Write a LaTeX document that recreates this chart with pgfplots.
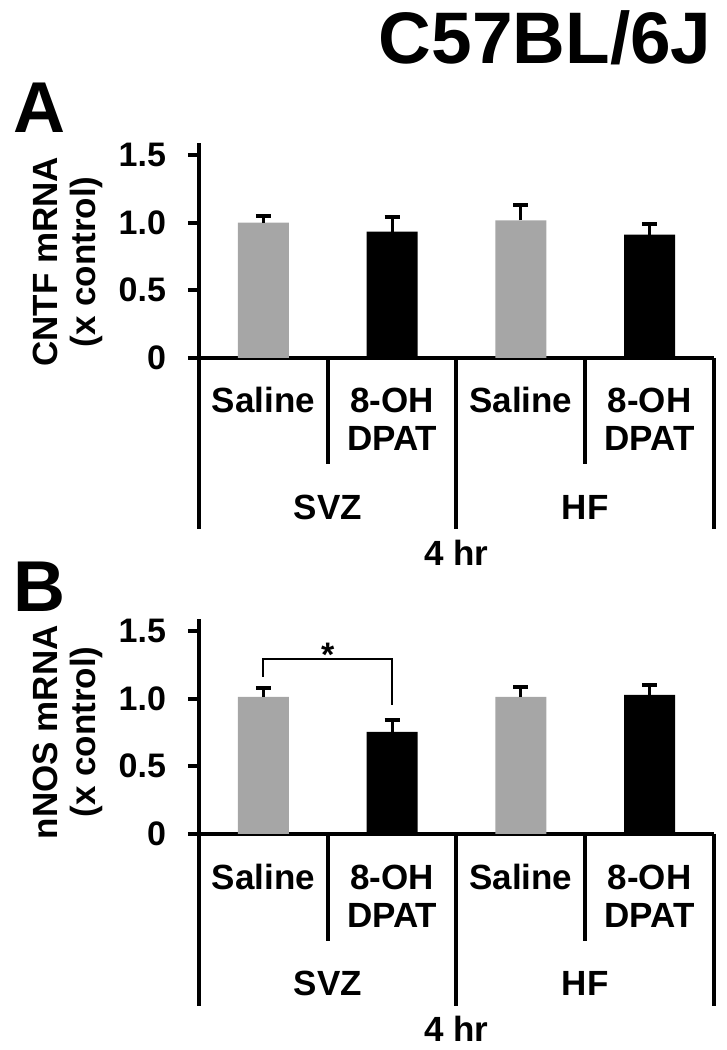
\documentclass[border=0pt]{standalone}
\usepackage{fontspec}
\setmainfont{Liberation Sans}
\usepackage{pgfplots}
\pgfplotsset{compat=1.18}
\definecolor{bargray}{HTML}{A6A6A6}
\newcommand{\lblfont}{\fontsize{17.5}{19}\selectfont\bfseries}
\newcommand{\two}[2]{\vtop{\halign{\hfil##\hfil\cr #1\cr #2\cr}}}
\pgfplotsset{
  panel/.style={
    scale only axis, width=257.5pt, height=107.5pt,
    anchor=south west,
    xmin=0, xmax=4, ymin=0, ymax=1.587,
    axis x line*=bottom, axis y line*=left,
    axis line style={line width=2pt, -},
    ytick={0,0.5,1,1.5}, yticklabels={0,0.5,1.0,1.5},
    ytick style={line width=2pt, black},
    tick align=outside, major tick length=5.5pt,
    xtick={0.5,1.5,2.5,3.5},
    xticklabels={Saline,{\two{8-OH}{DPAT}},Saline,{\two{8-OH}{DPAT}}},
    xtick style={draw=none},
    xticklabel style={anchor=base, yshift=-22pt, font=\lblfont},
    yticklabel style={font=\fontsize{17}{20}\selectfont\bfseries, xshift=-7.5pt},
    /pgf/number format/assume math mode=true,
    ybar, bar width=25.5pt,
    every axis plot/.append style={bar shift=0pt},
    error bars/y dir=plus, error bars/y explicit,
    error bars/error bar style={line width=1.5pt, draw=black, solid},
    error bars/error mark options={line width=2pt, mark size=3.75pt, draw=black, solid, rotate=90},
    clip=false,
    ylabel style={align=center, font=\lblfont, anchor=center},
  },
}
\begin{document}
\begin{tikzpicture}
\useasboundingbox (0,0) rectangle (363.5pt,525pt);
\node[anchor=base east, inner sep=0pt, font=\fontsize{36.5}{40}\selectfont\bfseries] at (356pt,493pt) {C57BL/6J};
\node[anchor=base west, inner sep=0pt, font=\fontsize{36}{38}\selectfont\bfseries] at (6.5pt,458.5pt) {A};
\node[anchor=base west, inner sep=0pt, font=\fontsize{36}{38}\selectfont\bfseries] at (6.5pt,219pt) {B};

% Panel A
\begin{axis}[panel, at={(99.5pt,346pt)},
  ylabel={CNTF mRNA\\(x control)},
  ylabel style={at={(rel axis cs:-0.2553,0.447)}}]
\addplot[fill=bargray, draw=none] coordinates {(0.5,1.000) +- (0,0.045) (2.5,1.015) +- (0,0.112)};
\addplot[fill=black, draw=none] coordinates {(1.5,0.933) +- (0,0.107) (3.5,0.910) +- (0,0.080)};
\draw[line width=2pt] (axis cs:0,0) -- ++(0,-85.5pt);
\draw[line width=2pt] (axis cs:2,0) -- ++(0,-85.5pt);
\draw[line width=2pt] (axis cs:4,0) -- ++(0,-85.5pt);
\draw[line width=2pt] (axis cs:1,0) -- ++(0,-53pt);
\draw[line width=2pt] (axis cs:3,0) -- ++(0,-53pt);
\node[anchor=base, font=\lblfont] at ([yshift=-80.75pt]axis cs:1,0) {SVZ};
\node[anchor=base, font=\lblfont] at ([yshift=-80.75pt]axis cs:3,0) {HF};
\node[anchor=base, font=\lblfont] at ([yshift=-103.75pt]axis cs:2,0) {4 hr};
\end{axis}

% Panel B
\begin{axis}[panel, at={(99.5pt,108pt)},
  ylabel={nNOS mRNA\\(x control)},
  ylabel style={at={(rel axis cs:-0.2553,0.474)}}]
\addplot[fill=bargray, draw=none] coordinates {(0.5,1.012) +- (0,0.069) (2.5,1.012) +- (0,0.076)};
\addplot[fill=black, draw=none] coordinates {(1.5,0.754) +- (0,0.084) (3.5,1.027) +- (0,0.071)};
\draw[line width=2pt] (axis cs:0,0) -- ++(0,-86pt);
\draw[line width=2pt] (axis cs:2,0) -- ++(0,-86pt);
\draw[line width=2pt] (axis cs:4,0) -- ++(0,-86pt);
\draw[line width=2pt] (axis cs:1,0) -- ++(0,-53.5pt);
\draw[line width=2pt] (axis cs:3,0) -- ++(0,-53.5pt);
\draw[line width=1pt] (axis cs:0.5,1.16) |- (axis cs:1.5,1.292) -- (axis cs:1.5,0.953);
\node[anchor=base, inner sep=0pt, font=\fontsize{17}{20}\selectfont\bfseries] at (axis cs:1.0,1.24) {*};
\node[anchor=base, font=\lblfont] at ([yshift=-80.75pt]axis cs:1,0) {SVZ};
\node[anchor=base, font=\lblfont] at ([yshift=-80.75pt]axis cs:3,0) {HF};
\node[anchor=base, font=\lblfont] at ([yshift=-103.75pt]axis cs:2,0) {4 hr};
\end{axis}
\end{tikzpicture}
\end{document}
